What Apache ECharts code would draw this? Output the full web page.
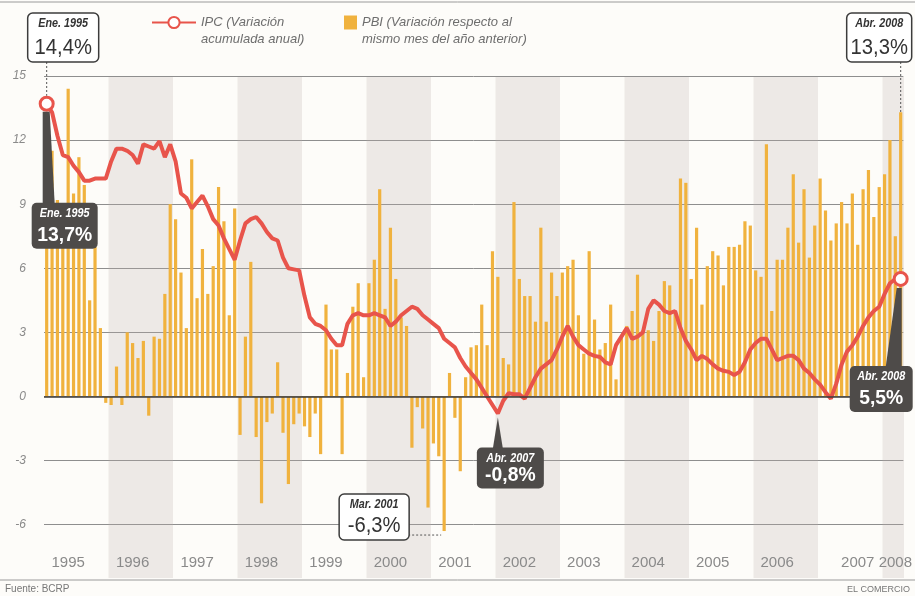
<!DOCTYPE html>
<html>
<head>
<meta charset="utf-8">
<script src="https://cdn.jsdelivr.net/npm/echarts@6/dist/echarts.min.js"></script>
<style>
  html, body { margin: 0; padding: 0; background: #fdfcf9; }
  #chart { width: 915px; height: 596px; }
</style>
</head>
<body>
<div id="chart"></div>
<script>
// months from Ene. 1995 to Abr. 2008
const firstYear = 1995
const monthCount = 160
const months = []
for (let i = 0; i < monthCount; i++) {
  const m = i % 12 + 1
  months.push((firstYear + Math.floor(i / 12)) + '-' + (m < 10 ? '0' + m : m))
}

// where each year label sits
const yearTickAt = ['1995-05', '1996-05', '1997-05', '1998-05', '1999-05', '2000-05', '2001-05',
  '2002-05', '2003-05', '2004-05', '2005-05', '2006-05', '2007-08', '2008-03']
const yTicks = [-6, -3, 0, 3, 6, 9, 12, 15]

// PBI: variacion respecto al mismo mes del año anterior
const pbi = [
  12.9, 11.5, 9.2, 9.0, 14.4, 9.5, 11.2, 9.9, 4.5, 7.0, 3.2, -0.3,
  -0.4, 1.4, -0.4, 3.0, 2.5, 1.8, 2.6, -0.9, 2.8, 2.7, 4.8, 9.0,
  8.3, 5.8, 3.2, 11.1, 4.6, 6.9, 4.8, 6.1, 9.8, 8.2, 3.8, 8.8,
  -1.8, 2.8, 6.3, -1.9, -5.0, -1.2, -0.8, 1.6, -1.7, -4.1, -1.3, -0.8,
  -1.4, -1.9, -0.8, -2.7, 4.3, 2.2, 2.2, -2.7, 1.1, 4.2, 5.3, 0.9,
  5.3, 6.4, 9.7, 4.1, 7.9, 5.5, 3.7, 3.3, -2.4, -0.5, -1.5, -5.2,
  -2.2, -2.8, -6.3, 1.1, -1.0, -3.5, 0.9, 2.3, 2.4, 4.3, 2.4, 6.8,
  5.6, 1.8, 1.5, 9.1, 5.5, 4.7, 4.7, 3.5, 7.9, 3.5, 5.8, 4.7,
  5.8, 6.1, 6.4, 3.8, 2.0, 6.8, 3.6, 2.2, 2.5, 4.3, 0.8, 2.8,
  3.3, 4.0, 5.7, 3.1, 3.1, 2.6, 4.0, 5.4, 5.2, 4.0, 10.2, 10.0,
  5.5, 7.9, 4.3, 6.1, 6.8, 6.6, 5.2, 7.0, 7.0, 7.1, 8.2, 8.0,
  5.9, 5.6, 11.8, 4.0, 6.4, 6.4, 7.9, 10.4, 7.2, 9.7, 6.5, 8.0,
  10.2, 8.7, 7.3, 8.1, 9.1, 8.1, 9.5, 7.1, 9.7, 10.6, 8.4, 9.8,
  10.4, 12.0, 7.5, 13.3
]

// IPC: variacion acumulada anual
const ipc = [
  13.7, 13.3, 12.2, 11.3, 11.2, 10.8, 10.5, 10.1, 10.1, 10.2, 10.2, 10.2,
  11.0, 11.6, 11.6, 11.5, 11.3, 10.9, 11.8, 11.7, 11.6, 11.95, 11.2, 11.8,
  11.0, 9.5, 9.3, 8.8, 9.1, 9.4, 8.9, 8.3, 8.0, 7.4, 6.9, 6.4,
  7.3, 8.1, 8.3, 8.4, 8.1, 7.7, 7.4, 7.3, 6.5, 6.0, 5.95, 5.9,
  4.7, 3.7, 3.4, 3.3, 3.1, 2.7, 2.4, 2.4, 3.4, 3.8, 3.9, 3.8,
  3.8, 3.9, 3.8, 3.7, 3.3, 3.5, 3.8, 4.0, 4.2, 4.1, 3.8, 3.6,
  3.4, 3.2, 2.7, 2.5, 2.3, 1.8, 1.4, 1.1, 0.8, 0.4, 0.0, -0.4,
  -0.8, -0.2, 0.15, 0.1, 0.1, -0.1, 0.4, 0.9, 1.3, 1.5, 1.7, 2.2,
  2.8, 3.3, 2.8, 2.4, 2.2, 2.0, 1.9, 1.85, 1.6, 1.5, 2.4, 2.8,
  3.2, 2.7, 2.8, 3.0, 4.1, 4.5, 4.3, 4.0, 3.9, 4.0, 3.2, 2.6,
  2.2, 1.7, 1.9, 1.75, 1.5, 1.3, 1.2, 1.15, 1.0, 1.15, 1.6, 2.2,
  2.5, 2.7, 2.7, 2.2, 1.7, 1.8, 1.9, 1.9, 1.7, 1.3, 1.1, 0.8,
  0.55, 0.2, -0.1, 0.6, 1.5, 2.1, 2.4, 2.8, 3.3, 3.7, 4.0, 4.2,
  4.8, 5.3, 5.5, 5.5
]

const font = "'Liberation Sans', Arial, sans-serif"
const red = '#e8544b'
const yellow = '#f0b23e'
const darkBox = '#4e4b49'

// only first and last IPC points carry the circle
const ipcData = ipc.map((v, i) => (i === 0 || i === ipc.length - 1) ? v : { value: v, symbol: 'none' })

const legendText = { fontFamily: font, fontStyle: 'italic', color: '#6e6e6e', fontSize: 13, lineHeight: 17 }

const chart = echarts.init(document.getElementById('chart'))

chart.setOption({
  backgroundColor: '#fdfcf9',
  animation: false,
  legend: [{
    data: ['IPC'],
    left: 151,
    top: -3,
    padding: 0,
    itemWidth: 44,
    itemHeight: 14,
    selectedMode: false,
    // leading empty line keeps the first line level with the icon
    formatter: () => '\nIPC (Variación\nacumulada anual)',
    textStyle: legendText
  }, {
    data: [{ name: 'PBI', icon: 'rect' }],
    left: 344,
    top: -3,
    padding: 0,
    itemWidth: 13,
    itemHeight: 14,
    selectedMode: false,
    formatter: () => '\nPBI (Variación respecto al\nmismo mes del año anterior)',
    textStyle: legendText
  }],
  grid: [
    { left: 44, right: 11, top: 76, bottom: 50 },
    { left: 44, right: 11, top: 77, bottom: 18 }
  ],
  xAxis: [{
    type: 'category',
    gridIndex: 0,
    data: months,
    axisLine: { show: false },
    axisTick: { show: false },
    axisLabel: {
      interval: (i, v) => yearTickAt.indexOf(v) > -1,
      formatter: v => v.slice(0, 4),
      color: '#8a8a8a',
      fontFamily: font,
      fontSize: 15,
      margin: 9
    }
  }, {
    // background bands, one per year
    type: 'category',
    gridIndex: 1,
    data: months,
    axisLine: { show: false },
    axisTick: { show: false },
    axisLabel: { show: false },
    splitArea: {
      show: true,
      interval: 11,
      areaStyle: { color: ['rgba(0,0,0,0)', 'rgba(190,176,170,0.24)'] }
    }
  }],
  yAxis: [{
    type: 'value',
    gridIndex: 0,
    min: -7,
    max: 15,
    axisLine: { show: false },
    axisTick: { show: false, customValues: yTicks },
    axisLabel: {
      customValues: yTicks,
      color: '#8a8a8a',
      fontFamily: font,
      fontStyle: 'italic',
      fontSize: 12,
      margin: 18
    },
    splitLine: { lineStyle: { color: '#8e8e8e', width: 1 } }
  }, {
    type: 'value',
    gridIndex: 1,
    show: false
  }],
  series: [{
    name: 'PBI',
    type: 'bar',
    data: pbi,
    barWidth: 3.2,
    clip: false,
    itemStyle: { color: yellow },
    markLine: {
      silent: true,
      symbol: 'none',
      label: { show: false },
      lineStyle: { color: '#3a3a3a', width: 1.5, type: 'solid' },
      data: [{ yAxis: 0 }]
    }
  }, {
    name: 'IPC',
    type: 'line',
    data: ipcData,
    z: 3,
    symbol: 'circle',
    symbolSize: 13,
    showSymbol: true,
    showAllSymbol: true,
    lineStyle: { color: red, width: 4 },
    itemStyle: { color: '#fff', borderColor: red, borderWidth: 3 }
  }]
})

// callouts tied to the data points
function px(i, v) {
  return chart.convertToPixel({ seriesIndex: 0 }, [i, v])
}

function callout(x, y, w, h, title, text, dark) {
  const ink = dark ? '#fff' : '#333'
  const cx = x + w / 2
  return [{
    type: 'rect',
    z: 10,
    shape: { x: x, y: y, width: w, height: h, r: 5 },
    style: dark ? { fill: darkBox } : { fill: '#fff', stroke: '#3c3c3c', lineWidth: 1.5 }
  }, {
    type: 'text',
    z: 11,
    x: cx,
    scaleX: 0.9,
    style: { text: title, x: 0, y: y + 5, align: 'center', verticalAlign: 'top', fill: ink, font: 'italic bold 12px ' + font }
  }, {
    type: 'text',
    z: 11,
    x: cx,
    scaleX: 0.92,
    style: { text: text, x: 0, y: y + h - 3, align: 'center', verticalAlign: 'bottom', fill: ink, font: (dark ? 'bold 21px ' : '22px ') + font }
  }]
}

const p0 = px(0, ipc[0])
const pMin = px(84, ipc[84])
const pEnd = px(159, ipc[159])
const bEnd = px(159, pbi[159])
const bLow = px(74, pbi[74])

const els = []
// IPC Ene. 1995
els.push({ type: 'polygon', z: 9, shape: { points: [[p0[0] - 4, p0[1] + 8], [p0[0] + 3, p0[1] + 8], [p0[0] + 8, p0[1] + 100], [p0[0] - 4, p0[1] + 100]] }, style: { fill: darkBox } })
els.push(...callout(p0[0] - 15, p0[1] + 99, 66, 46, 'Ene. 1995', '13,7%', true))
// IPC minimo
els.push({ type: 'polygon', z: 9, shape: { points: [[pMin[0], pMin[1] + 4], [pMin[0] + 5, pMin[1] + 35], [pMin[0] - 5, pMin[1] + 35]] }, style: { fill: darkBox } })
els.push(...callout(pMin[0] - 21, pMin[1] + 34, 67, 41, 'Abr. 2007', '-0,8%', true))
// IPC Abr. 2008
els.push({ type: 'polygon', z: 9, shape: { points: [[pEnd[0] - 4, pEnd[1] + 9], [pEnd[0] + 1, pEnd[1] + 9], [pEnd[0] + 1, pEnd[1] + 88], [pEnd[0] - 15, pEnd[1] + 88]] }, style: { fill: darkBox } })
els.push(...callout(pEnd[0] - 51, pEnd[1] + 87, 63, 46, 'Abr. 2008', '5,5%', true))
// PBI boxes
els.push({ type: 'line', z: 9, shape: { x1: p0[0], y1: 62, x2: p0[0], y2: p0[1] - 8 }, style: { stroke: '#555', lineWidth: 1, lineDash: [2, 2] } })
els.push(...callout(p0[0] - 19, 13, 71, 49, 'Ene. 1995', '14,4%', false))
els.push({ type: 'line', z: 9, shape: { x1: bEnd[0], y1: 62, x2: bEnd[0], y2: bEnd[1] }, style: { stroke: '#555', lineWidth: 1, lineDash: [2, 2] } })
els.push(...callout(bEnd[0] - 54, 13, 65, 49, 'Abr. 2008', '13,3%', false))
els.push({ type: 'line', z: 9, shape: { x1: bLow[0] - 36, y1: bLow[1] + 4, x2: bLow[0] - 3, y2: bLow[1] + 4 }, style: { stroke: '#555', lineWidth: 1, lineDash: [2, 2] } })
els.push(...callout(bLow[0] - 105, bLow[1] - 37, 70, 46, 'Mar. 2001', '-6,3%', false))

// frame lines and credits
els.push({ type: 'line', shape: { x1: 0, y1: 2, x2: 915, y2: 2 }, style: { stroke: '#9a9a9a', lineWidth: 1 } })
els.push({ type: 'line', shape: { x1: 0, y1: 580, x2: 915, y2: 580 }, style: { stroke: '#9a9a9a', lineWidth: 1 } })
els.push({ type: 'text', style: { text: 'Fuente: BCRP', x: 5, y: 589, verticalAlign: 'middle', fill: '#777', font: '10px ' + font } })
els.push({ type: 'text', style: { text: 'EL COMERCIO', x: 910, y: 590, align: 'right', verticalAlign: 'middle', fill: '#777', font: '9px ' + font } })

chart.setOption({ graphic: els })
</script>
</body>
</html>
